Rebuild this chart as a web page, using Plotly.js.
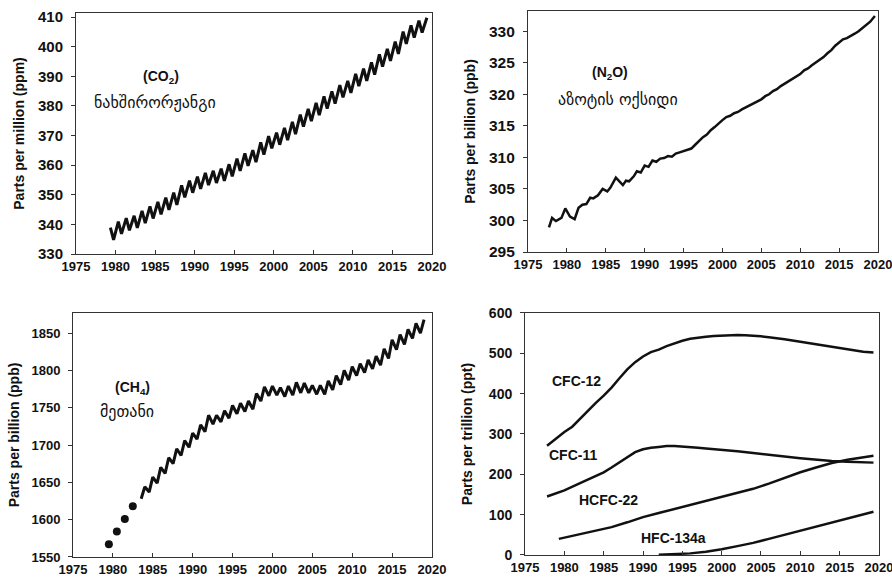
<!DOCTYPE html>
<html>
<head>
<meta charset="utf-8">
<script src="https://cdn.plot.ly/plotly-3.0.1.min.js"></script>
<style>html,body{margin:0;padding:0;background:#fff;}#chart{width:892px;height:585px;}</style>
</head>
<body>
<div id="chart"></div>
<script>
// ---------- CO2 (ppm): spring peaks and autumn troughs ----------
var co2Years = [1979,1980,1981,1982,1983,1984,1985,1986,1987,1988,1989,1990,1991,1992,1993,1994,1995,1996,1997,1998,1999,2000,2001,2002,2003,2004,2005,2006,2007,2008,2009,2010,2011,2012,2013,2014,2015,2016,2017,2018,2019];
var co2Peak = [338.9,340.9,342.1,342.9,344.6,346.1,347.6,349.0,350.7,353.2,354.8,356.1,357.4,358.1,358.8,360.3,362.2,364.0,365.1,367.7,369.8,371.0,372.6,374.6,377.1,379.0,381.0,383.2,384.9,387.0,388.5,390.8,392.6,394.7,397.4,399.3,401.7,405.1,407.2,408.8,409.8];
var co2Trough = [334.8,336.8,338.0,338.8,340.4,342.0,343.4,344.9,346.6,349.1,350.7,352.0,353.3,354.0,354.7,356.2,358.1,359.8,361.0,363.6,365.7,366.9,368.5,370.5,373.0,374.9,376.9,379.1,380.8,382.9,384.4,386.7,388.5,390.6,393.3,395.2,397.6,401.0,403.1,404.8,null];

// ---------- N2O (ppb) ----------
var n2oYears = [1977.7,1978.1,1978.6,1979.3,1979.8,1980.4,1981.0,1981.5,1982.0,1982.5,1983.0,1983.4,1984.0,1984.6,1985.2,1985.6,1986.3,1986.8,1987.2,1987.6,1988.0,1988.6,1989.0,1989.5,1990.0,1990.5,1991.0,1991.5,1992.0,1992.5,1993.0,1993.5,1994.0,1994.5,1995.0,1995.5,1996.0,1996.5,1997.0,1997.5,1998.0,1998.5,1999.0,1999.5,2000.0,2000.5,2001.0,2001.5,2002.0,2002.5,2003.0,2003.5,2004.0,2004.5,2005.0,2005.5,2006.0,2006.5,2007.0,2007.5,2008.0,2008.5,2009.0,2009.5,2010.0,2010.5,2011.0,2011.5,2012.0,2012.5,2013.0,2013.5,2014.0,2014.5,2015.0,2015.5,2016.0,2016.5,2017.0,2017.5,2018.0,2018.5,2019.0,2019.6];
var n2oValues = [298.9,300.4,299.9,300.4,301.9,300.6,300.2,302.0,302.5,302.6,303.6,303.5,304.0,305.0,304.6,305.2,306.8,306.2,305.6,306.3,306.2,307.0,307.8,307.6,308.7,308.5,309.5,309.3,309.8,309.9,310.2,310.1,310.6,310.8,311.0,311.1,311.4,312.0,312.6,313.2,313.6,314.3,314.8,315.4,315.9,316.4,316.6,317.0,317.2,317.6,317.9,318.2,318.5,318.8,319.2,319.7,320.0,320.5,320.8,321.3,321.7,322.1,322.5,322.9,323.2,323.8,324.1,324.6,325.0,325.5,325.9,326.5,327.0,327.7,328.2,328.7,328.9,329.2,329.6,330.0,330.5,331.0,331.5,332.4];

// ---------- CH4 (ppb) ----------
var ch4EarlyYears = [1979.5,1980.5,1981.5,1982.5];
var ch4EarlyValues = [1567,1584,1601,1618];
var ch4Years = [1983,1984,1985,1986,1987,1988,1989,1990,1991,1992,1993,1994,1995,1996,1997,1998,1999,2000,2001,2002,2003,2004,2005,2006,2007,2008,2009,2010,2011,2012,2013,2014,2015,2016,2017,2018,2019];
var ch4Winter = [null,1644,1657,1670,1683,1695,1706,1716,1727,1740,1740,1746,1753,1756,1759,1769,1778,1779,1777,1779,1784,1783,1780,1780,1786,1793,1800,1805,1809,1814,1819,1829,1841,1848,1855,1863,1868];
var ch4Summer = [1628,1637,1649,1662,1675,1686,1697,1708,1718,1728,1731,1736,1742,1745,1748,1759,1766,1767,1765,1767,1770,1770,1768,1768,1774,1781,1787,1793,1797,1802,1807,1816,1828,1835,1843,1850,null];

// ---------- Halocarbons (ppt) ----------
var cfc12Years = [1977.8,1979,1980,1981,1982,1983,1984,1985,1986,1987,1988,1989,1990,1991,1992,1993,1994,1995,1996,1997,1998,1999,2000,2001,2002,2003,2004,2005,2006,2007,2008,2009,2010,2011,2012,2013,2014,2015,2016,2017,2018,2019.3];
var cfc12Values = [271,290,305,318,338,358,377,395,415,438,460,478,492,503,509,518,525,531,536,539,541,543,544,545,545.5,545,544,542,540,538,535,532,529,526,523,519,516,513,510,507,504,502];
var cfc11Years = [1977.8,1980,1982,1984,1985,1986,1987,1988,1989,1990,1991,1992,1993,1994,1995,1996,1997,1998,2000,2002,2004,2006,2008,2010,2012,2014,2016,2018,2019.3];
var cfc11Values = [145,160,178,195,205,217,230,244,255,262,266,268,270,270,269,268,266,264,261,257,253,248,244,240,236,233,231,229,229];
var hcfc22Years = [1979.3,1980,1982,1984,1986,1988,1990,1992,1994,1996,1998,2000,2002,2004,2006,2008,2010,2012,2014,2016,2018,2019.3];
var hcfc22Values = [40,43,51,59,69,81,94,104,114,124,134,144,154,164,177,191,205,217,228,236,243,246];
var hfc134aYears = [1992,1994,1996,1998,2000,2002,2004,2006,2008,2010,2012,2014,2016,2018,2019.3];
var hfc134aValues = [0.5,1.5,4,8,14,22,30,40,50,60,70,80,90,101,107];

var tickYears = [1975,1980,1985,1990,1995,2000,2005,2010,2015,2020];

// ---------- build traces ----------
var co2X = [], co2Y = [];
for (var i = 0; i < co2Years.length; i++) {
  co2X.push(co2Years[i] + 0.35); co2Y.push(co2Peak[i]);
  if (co2Trough[i] !== null) { co2X.push(co2Years[i] + 0.75); co2Y.push(co2Trough[i]); }
}
var ch4X = [], ch4Y = [];
for (var j = 0; j < ch4Years.length; j++) {
  if (ch4Winter[j] !== null) { ch4X.push(ch4Years[j]); ch4Y.push(ch4Winter[j]); }
  if (ch4Summer[j] !== null) { ch4X.push(ch4Years[j] + 0.55); ch4Y.push(ch4Summer[j]); }
}

var BLK = '#111';
var traces = [
  {x: co2X, y: co2Y, xaxis: 'x', yaxis: 'y', mode: 'lines', line: {color: BLK, width: 3}, hoverinfo: 'skip'},
  {x: n2oYears, y: n2oValues, xaxis: 'x2', yaxis: 'y2', mode: 'lines', line: {color: BLK, width: 2.5}, hoverinfo: 'skip'},
  {x: ch4EarlyYears, y: ch4EarlyValues, xaxis: 'x3', yaxis: 'y3', mode: 'markers', marker: {color: BLK, size: 8}, hoverinfo: 'skip'},
  {x: ch4X, y: ch4Y, xaxis: 'x3', yaxis: 'y3', mode: 'lines', line: {color: BLK, width: 3}, hoverinfo: 'skip'},
  {x: cfc12Years, y: cfc12Values, xaxis: 'x4', yaxis: 'y4', mode: 'lines', line: {color: BLK, width: 2.5}, hoverinfo: 'skip'},
  {x: cfc11Years, y: cfc11Values, xaxis: 'x4', yaxis: 'y4', mode: 'lines', line: {color: BLK, width: 2.5}, hoverinfo: 'skip'},
  {x: hcfc22Years, y: hcfc22Values, xaxis: 'x4', yaxis: 'y4', mode: 'lines', line: {color: BLK, width: 2.5}, hoverinfo: 'skip'},
  {x: hfc134aYears, y: hfc134aValues, xaxis: 'x4', yaxis: 'y4', mode: 'lines', line: {color: BLK, width: 2.5}, hoverinfo: 'skip'}
];

var FONT = 'Liberation Sans, Arial, sans-serif';
var GEO = 'DejaVu Sans, Noto Sans, sans-serif';
function xAx(dom, anchor) {
  return {domain: dom, anchor: anchor, range: [1975, 2020], tickmode: 'array', tickvals: tickYears,
    showgrid: false, zeroline: false, showline: true, mirror: true, linecolor: '#333', linewidth: 1,
    ticks: 'inside', ticklen: 4, tickcolor: '#333', ticklabeloverflow: 'allow',
    tickfont: {family: FONT, size: 13, weight: 'bold', color: BLK}, fixedrange: true};
}
function yAx(dom, anchor, range, dtick, title, fs, so) {
  return {domain: dom, anchor: anchor, range: range, dtick: dtick, tick0: range[0],
    showgrid: false, zeroline: false, showline: true, mirror: true, linecolor: '#333', linewidth: 1,
    ticks: 'outside', ticklen: 4, tickcolor: '#333', ticklabelstandoff: 5, ticklabeloverflow: 'allow',
    tickfont: {family: FONT, size: fs, weight: 'bold', color: BLK},
    title: {text: title, standoff: so, font: {family: FONT, size: 14, weight: 'bold', color: BLK}},
    fixedrange: true};
}

function ann(xr, yr, x, y, text, font) {
  return {xref: xr, yref: yr, x: x, y: y, text: text, showarrow: false, xanchor: 'center', yanchor: 'middle', font: font};
}
var LBL = {family: FONT, size: 14, weight: 'bold', color: BLK};
var GEOF = {family: GEO, size: 16, color: BLK};

var layout = {
  width: 892, height: 585,
  margin: {l: 0, r: 0, t: 0, b: 0},
  paper_bgcolor: '#fff', plot_bgcolor: '#fff',
  showlegend: false,
  xaxis: xAx([0.0852, 0.4843], 'y'),
  yaxis: yAx([0.5658, 0.9778], 'x', [330, 411.4], 10, 'Parts per million (ppm)', 15, 10),
  xaxis2: xAx([0.5919, 0.9843], 'y2'),
  yaxis2: yAx([0.5692, 0.9812], 'x2', [295, 333.2], 5, 'Parts per billion (ppb)', 15.5, 10),
  xaxis3: xAx([0.0818, 0.4843], 'y3'),
  yaxis3: yAx([0.0479, 0.4650], 'x3', [1550, 1877], 50, 'Parts per billion (ppb)', 13, 8),
  xaxis4: xAx([0.5886, 0.9854], 'y4'),
  yaxis4: yAx([0.0513, 0.4650], 'x4', [0, 600], 100, 'Parts per trillion (ppt)', 14, 12),
  annotations: [
    ann('x', 'y', 1985.7, 389.7, '(CO<sub>2</sub>)', LBL),
    ann('x', 'y', 1985.0, 381.0, 'ნახშირორჟანგი', GEOF),
    ann('x2', 'y2', 1985.5, 323.4, '(N<sub>2</sub>O)', LBL),
    ann('x2', 'y2', 1986.6, 319.1, 'აზოტის ოქსიდი', GEOF),
    ann('x3', 'y3', 1982.4, 1776.6, '(CH<sub>4</sub>)', LBL),
    ann('x3', 'y3', 1981.8, 1744.4, 'მეთანი', GEOF),
    ann('x4', 'y4', 1981.6, 431.4, 'CFC-12', LBL),
    ann('x4', 'y4', 1981.1, 248, 'CFC-11', LBL),
    ann('x4', 'y4', 1985.55, 136.3, 'HCFC-22', LBL),
    ann('x4', 'y4', 1993.9, 42.1, 'HFC-134a', LBL)
  ]
};

Plotly.newPlot('chart', traces, layout, {staticPlot: true, displayModeBar: false});
</script>
</body>
</html>
